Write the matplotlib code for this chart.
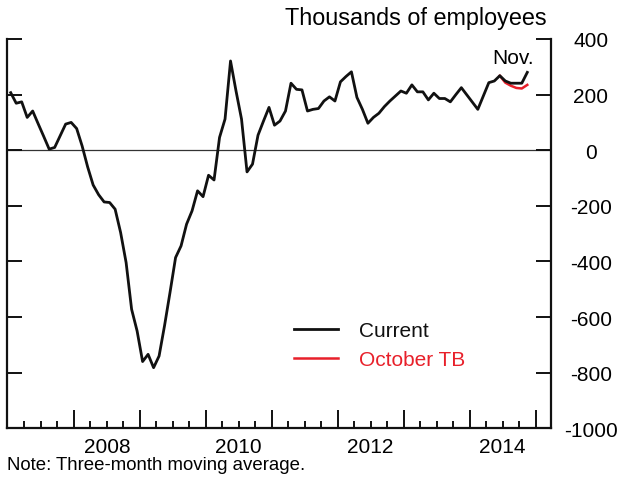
import numpy as np
import matplotlib
matplotlib.use('Agg')
import matplotlib.pyplot as plt
from matplotlib.ticker import FixedLocator, FixedFormatter

plt.rcParams['font.family'] = ['Liberation Sans', 'DejaVu Sans']
plt.rcParams['axes.unicode_minus'] = False

# monthly payroll change, three-month moving average, Jan 2007 - Nov 2014
start_year = 2007
current = [207, 169, 174, 118, 141, 95, 50, 4, 10, 52, 94, 100,
           78, 15, -60, -125, -160, -186, -188, -212, -296, -404, -572, -650,
           -760, -734, -782, -740, -630, -510, -386, -344, -266, -218, -146, -167,
           -90, -107, 46, 112, 321, 213, 112, -78, -50, 54, 105, 154,
           90, 105, 141, 241, 219, 217, 141, 147, 150, 177, 192, 177,
           246, 265, 282, 190, 147, 97, 118, 133, 157, 177, 195, 213,
           205, 235, 210, 210, 181, 205, 186, 186, 174, 200, 225, 199,
           173, 147, 195, 243, 249, 268, 249, 241, 241, 241, 280]
october_tb = [268, 243, 232, 224, 222, 235]
october_start = 89  # month index where the October TB line begins

year_labels = ['2008', '2010', '2012', '2014']
label_pos = [2008.5, 2010.5, 2012.5, 2014.5]
yticks = [-1000, -800, -600, -400, -200, 0, 200, 400]

t = start_year + (np.arange(len(current)) + 0.5) / 12
t_oct = t[october_start:october_start + len(october_tb)]

fig = plt.figure(figsize=(6.19, 4.85), dpi=100)
ax = fig.add_axes([7.3/619, 1-429.3/485, (550.7-7.3)/619, (429.3-40)/485])

ax.axhline(0, color='#333333', lw=0.9, zorder=1)
ax.plot(t_oct, october_tb, color='#e8202a', lw=1.8, zorder=2, label='October TB')
ax.plot(t, current, color='#111111', lw=2.0, zorder=3, label='Current')

ax.set_xlim(2006.99, 2015.23)
ax.set_ylim(-1000, 400)

ax.spines['top'].set_visible(False)
for s in ['left', 'right', 'bottom']:
    ax.spines[s].set_linewidth(1.6)
    ax.spines[s].set_color('#111111')

ax.set_yticks(yticks)
ax.yaxis.set_ticks_position('both')
ax.tick_params(axis='y', direction='in', length=11, width=1.4, color='#111111',
               labelleft=False, labelright=True, labelsize=15, pad=29)
for lab in ax.get_yticklabels():
    lab.set_horizontalalignment('center')

ax.xaxis.set_major_locator(FixedLocator(np.arange(2008, 2016)))
ax.xaxis.set_major_formatter(FixedFormatter([''] * 8))
quarters = [y + q for y in range(2007, 2016) for q in (0.25, 0.5, 0.75)]
qlabels = [year_labels[label_pos.index(q)] if q in label_pos else '' for q in quarters]
ax.xaxis.set_minor_locator(FixedLocator(quarters))
ax.xaxis.set_minor_formatter(FixedFormatter(qlabels))
ax.tick_params(axis='x', which='major', direction='in', length=13, width=1.4, color='#111111')
ax.tick_params(axis='x', which='minor', direction='in', length=5, width=1.4, color='#111111',
               labelsize=15, pad=6)

fig.text(547/619, 1-19/485, 'Thousands of employees', ha='right', va='center', fontsize=16.8)
fig.text(534/619, 1-58/485, 'Nov.', ha='right', va='center', fontsize=15)
fig.text(7/619, 1-466/485, 'Note: Three-month moving average.', ha='left', va='center', fontsize=13.4)

handles, labels = ax.get_legend_handles_labels()
leg = ax.legend(handles[::-1], labels[::-1], loc='upper left',
                bbox_to_anchor=((294-7.3)/543.4, (429.3-322)/389.3),
                frameon=False, fontsize=15, handlelength=2.1, handletextpad=1.0,
                labelspacing=0.5, borderpad=0, borderaxespad=0,
                labelcolor=['#111111', '#e8202a'])

plt.savefig('out.png', dpi=100)
